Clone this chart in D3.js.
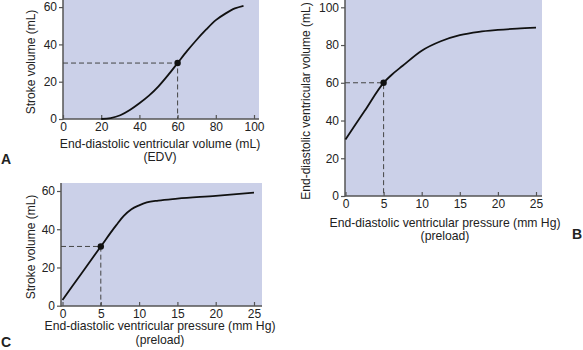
<!DOCTYPE html>
<html><head><meta charset="utf-8">
<script src="https://cdn.jsdelivr.net/npm/d3@7"></script>
<style>body{margin:0;background:#fff}svg{display:block}text{font-family:"Liberation Sans",Arial,sans-serif;fill:#222}</style>
</head><body>
<svg id="c" width="583" height="350"></svg>
<script>
// Panel A: stroke volume vs EDV
const aX = [20,25,30,35,40,45,50,55,60,65,70,75,80,85,90,94.5];
const aY = [0,0.5,2,4.8,8.4,12.5,17.5,23.5,30,36.5,42.5,48,53,56.5,59.3,60.7];
const aTicksX = [0,20,40,60,80,100];
const aTicksY = [0,20,40,60];
const aMarker = [60,30];
// Panel B: EDV vs EDP
const bX = [0,2.5,5,6,7.5,10,12.5,15,17.5,20,22.5,25];
const bY = [30,45,60,64,69,77,82,85.2,87,88,88.7,89.2];
const bTicksX = [0,5,10,15,20,25];
const bTicksY = [0,20,40,60,80,100];
const bMarker = [5,60];
// Panel C: stroke volume vs EDP
const cX = [0,2.5,5,7,8,9,10,11,12.5,15,20,25];
const cY = [3,17,31,42,47,50.5,52.5,54,55,56,57.5,59.2];
const cTicksX = [0,5,10,15,20,25];
const cTicksY = [0,20,40,60];
const cMarker = [5,31];

const svg = d3.select("#c");
const BG = "#cbd0e8", AX = "#555";

function panel(o){
  const g = svg.append("g");
  const x = d3.scaleLinear().domain(o.xd).range(o.xr);
  const y = d3.scaleLinear().domain(o.yd).range(o.yr);
  g.append("rect").attr("x",o.box[0]).attr("y",o.box[1]).attr("width",o.box[2]-o.box[0]).attr("height",o.box[3]-o.box[1]).attr("fill",BG);
  const ax = g.append("g").attr("transform",`translate(0,${o.box[3]})`)
    .call(d3.axisBottom(x).tickValues(o.tx).tickSize(-4).tickPadding(3));
  const ay = g.append("g").attr("transform",`translate(${o.box[0]},0)`)
    .call(d3.axisLeft(y).tickValues(o.ty).tickSize(4).tickPadding(2));
  [ax,ay].forEach(a=>{
    a.select(".domain").remove();
    a.selectAll("line").attr("stroke",AX).attr("stroke-width",1.2);
    a.selectAll("text").attr("font-size",12).attr("fill","#222").style("font-family","Liberation Sans, Arial, sans-serif");
  });
  g.append("line").attr("x1",o.box[0]).attr("x2",o.box[0]).attr("y1",o.box[1]).attr("y2",o.box[3]+0.7).attr("stroke",AX).attr("stroke-width",1.5);
  g.append("line").attr("x1",o.box[0]).attr("x2",o.box[2]).attr("y1",o.box[3]).attr("y2",o.box[3]).attr("stroke",AX).attr("stroke-width",1.5);
  const mx = x(o.m[0]), my = y(o.m[1]);
  g.append("path").attr("d",`M${o.box[0]},${my}H${mx}V${o.box[3]}`).attr("fill","none")
    .attr("stroke","#444").attr("stroke-width",1).attr("stroke-dasharray","5,3");
  const pts = o.cx.map((v,i)=>[v,o.cy[i]]);
  g.append("path").datum(pts).attr("fill","none").attr("stroke","#111").attr("stroke-width",1.8)
    .attr("d",d3.line().x(d=>x(d[0])).y(d=>y(d[1])).curve(d3.curveMonotoneX));
  g.append("circle").attr("cx",mx).attr("cy",my).attr("r",3.2).attr("fill","#111");
  o.xt.forEach((t,i)=>g.append("text").attr("x",o.xtp[0]).attr("y",o.xtp[1]+i*13.8).attr("text-anchor","middle").attr("font-size",12.2).text(t));
  g.append("text").attr("transform",`translate(${o.ytp[0]},${o.ytp[1]}) rotate(-90)`).attr("text-anchor","middle").attr("font-size",12).text(o.yt);
  g.append("text").attr("x",o.lab[0]).attr("y",o.lab[1]).attr("font-size",14).attr("font-weight","bold").attr("fill","#111").text(o.L);
}

panel({box:[63,0,259,119], xd:[0,100], xr:[63,254], yd:[0,60], yr:[119,7.1],
  tx:aTicksX, ty:aTicksY, m:aMarker, cx:aX, cy:aY,
  xt:["End-diastolic ventricular volume (mL)","(EDV)"], xtp:[160,147.5], yt:"Stroke volume (mL)", ytp:[34.5,62], L:"A", lab:[1,164]});
panel({box:[345,0,542,196], xd:[0,25], xr:[345.5,536], yd:[0,100], yr:[196,7.3],
  tx:bTicksX, ty:bTicksY, m:bMarker, cx:bX, cy:bY,
  xt:["End-diastolic ventricular pressure (mm Hg)","(preload)"], xtp:[445,226.5], yt:"End-diastolic ventricular volume (mL)", ytp:[310,101], L:"B", lab:[572,239]});
panel({box:[61,183,262,306], xd:[0,25], xr:[62.5,254], yd:[0,60], yr:[305.7,191],
  tx:cTicksX, ty:cTicksY, m:cMarker, cx:cX, cy:cY,
  xt:["End-diastolic ventricular pressure (mm Hg)","(preload)"], xtp:[160,330], yt:"Stroke volume (mL)", ytp:[34.5,247], L:"C", lab:[1,347]});
</script>
</body></html>
